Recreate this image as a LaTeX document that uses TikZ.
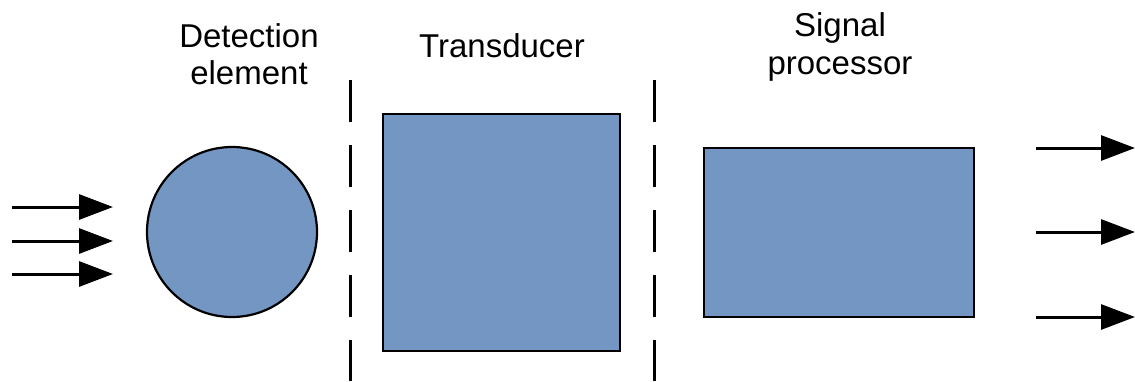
\documentclass[tikz,border=0pt]{standalone}
\usepackage{fontspec}
\setmainfont{Liberation Sans}
\usetikzlibrary{arrows.meta}
\definecolor{boxblue}{RGB}{115,150,194}
\tikzset{
  blockfill/.style={draw=black, fill=boxblue, line width=2.2pt},
  sep/.style={line width=3pt, dash pattern=on 42pt off 23pt},
  flow/.style={line width=3pt, -{Triangle[length=34pt,width=25pt]}},
  lab/.style={font=\fontsize{33}{37.5}\selectfont, align=center, inner sep=0pt, anchor=north}
}
\begin{document}
\begin{tikzpicture}[x=1pt,y=-1pt]
\useasboundingbox (0,0) rectangle (1135,381);
% labels
\node[lab] (ldet) at (249,23.2) {Detection\\element};
\node[lab] (ltra) at (502,33.4) {Transducer};
\node[lab] (lsig) at (840,12.6) {Signal\\processor};
% separators
\coordinate (s1t) at (350,80); \coordinate (s1b) at (350,381);
\coordinate (s2t) at (654,80); \coordinate (s2b) at (654,381);
\draw[sep] (s1t) -- (s1b);
\draw[sep] (s2t) -- (s2b);
% shapes
\node[blockfill, circle, minimum size=170pt, inner sep=0pt] (det) at (232,232) {};
\node[blockfill, rectangle, minimum width=237pt, minimum height=237pt, inner sep=0pt] (tra) at (501.5,232.5) {};
\node[blockfill, rectangle, minimum width=270pt, minimum height=169pt, inner sep=0pt] (sig) at (839,232.5) {};
% input arrows
\coordinate (i1s) at (12,207); \coordinate (i1e) at (113,207);
\coordinate (i2s) at (12,241); \coordinate (i2e) at (113,241);
\coordinate (i3s) at (12,274); \coordinate (i3e) at (113,274);
\draw[flow] (i1s) -- (i1e);
\draw[flow] (i2s) -- (i2e);
\draw[flow] (i3s) -- (i3e);
% output arrows
\coordinate (o1s) at (1036,148); \coordinate (o1e) at (1135,148);
\coordinate (o2s) at (1036,232); \coordinate (o2e) at (1135,232);
\coordinate (o3s) at (1036,317); \coordinate (o3e) at (1135,317);
\draw[flow] (o1s) -- (o1e);
\draw[flow] (o2s) -- (o2e);
\draw[flow] (o3s) -- (o3e);
\end{tikzpicture}
\end{document}
